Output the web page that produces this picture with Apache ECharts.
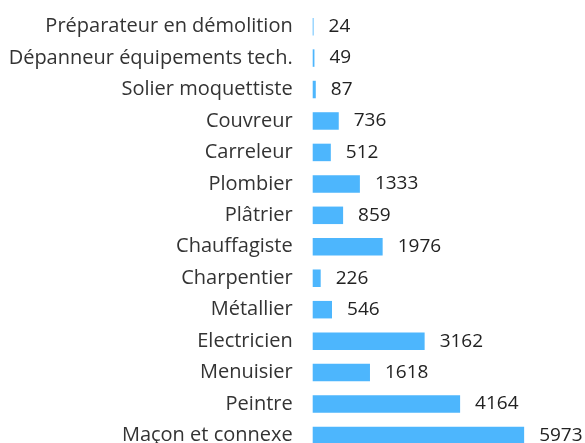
<!DOCTYPE html>
<html>
<head>
<meta charset="utf-8">
<script src="https://cdn.jsdelivr.net/npm/echarts@6/dist/echarts.min.js"></script>
<style>
  html, body { margin: 0; padding: 0; background: #ffffff; }
  #chart { width: 585px; height: 443px; }
</style>
</head>
<body>
<div id="chart"></div>
<script>
// Métiers du bâtiment et effectifs correspondants
const categories = [
  'Préparateur en démolition',
  'Dépanneur équipements tech.',
  'Solier moquettiste',
  'Couvreur',
  'Carreleur',
  'Plombier',
  'Plâtrier',
  'Chauffagiste',
  'Charpentier',
  'Métallier',
  'Electricien',
  'Menuisier',
  'Peintre',
  'Maçon et connexe'
];
const values = [24, 49, 87, 736, 512, 1333, 859, 1976, 226, 546, 3162, 1618, 4164, 5973];

const chart = echarts.init(document.getElementById('chart'), null, { renderer: 'canvas' });

chart.setOption({
  animation: false,
  textStyle: { fontFamily: 'Open Sans' },
  grid: {
    left: 312.7, top: 10.9, width: 212.4, height: 440.3,
    containLabel: false,
    outerBoundsMode: 'none'
  },
  xAxis: {
    type: 'value',
    min: 0,
    max: 6000,
    show: false
  },
  yAxis: {
    type: 'category',
    data: categories,
    inverse: true,
    axisLine: { show: false },
    axisTick: { show: false },
    splitLine: { show: false },
    axisLabel: {
      margin: 20,
      color: '#333333',
      fontSize: 20,
      fontFamily: 'Open Sans'
    }
  },
  series: [{
    type: 'bar',
    data: values,
    barWidth: 17.5,
    itemStyle: { color: '#4db6fd' },
    label: {
      show: true,
      position: 'right',
      distance: 15,
      color: '#222222',
      fontSize: 19,
      fontFamily: 'Open Sans'
    }
  }]
});
</script>
</body>
</html>
